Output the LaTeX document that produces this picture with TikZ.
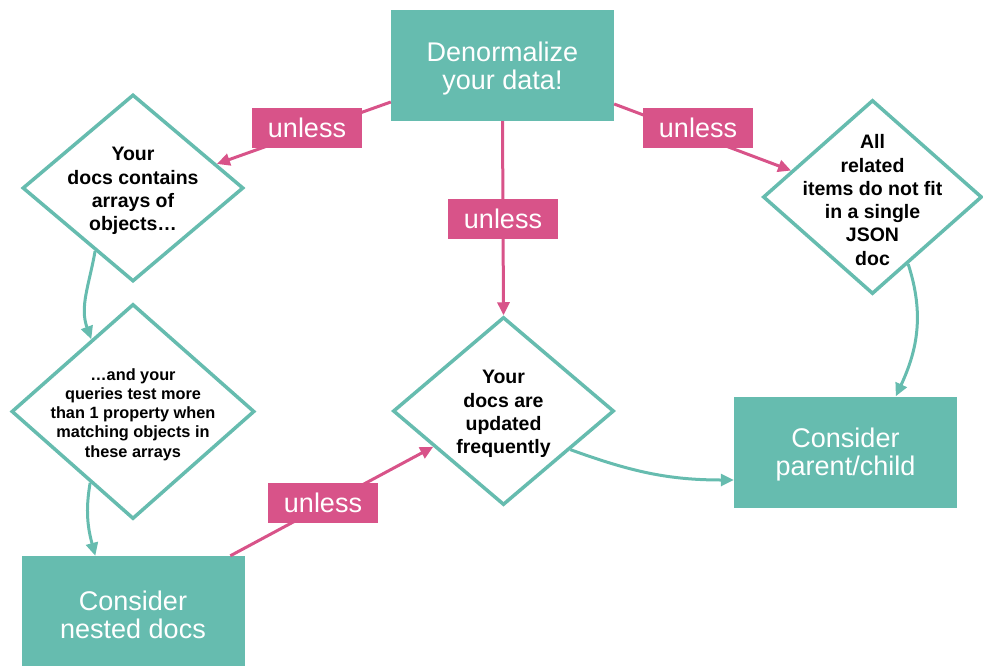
\documentclass[tikz,border=0pt]{standalone}
\usepackage{fontspec}
\setmainfont{Liberation Sans}
\usetikzlibrary{shapes.geometric,arrows.meta,calc}
\definecolor{teal1}{RGB}{102,188,175}
\definecolor{pink1}{RGB}{216,83,137}
\begin{document}
\begin{tikzpicture}[x=1pt,y=1pt,
 box/.style={fill=teal1, minimum width=223pt, minimum height=111pt, inner sep=0pt},
 btext/.style={text=white, align=center, inner sep=0pt, font=\fontsize{27}{28}\selectfont, yshift=-3pt},
 dia/.style={diamond, draw=teal1, line width=3.5pt, fill=white, inner sep=0pt},
 dtext/.style={align=center, font=\fontsize{19.5}{23.3}\selectfont\bfseries, inner sep=0pt, yshift=-3pt},
 lbl/.style={fill=pink1, text=white, minimum width=110pt, minimum height=40pt, inner sep=0pt, font=\fontsize{27}{28}\selectfont},
 parr/.style={draw=pink1, line width=3pt, -{Triangle[length=13pt,width=12pt]}},
 tarr/.style={draw=teal1, line width=3pt, -{Triangle[length=13pt,width=12pt]}},
]
\useasboundingbox (0,0) rectangle (983,-665);
\clip (0,0) rectangle (983,-665);

% boxes
\node[box] (top) at (502.5,-65.5) {};
\node[btext] (ttop) at (top) {Denormalize\\your data!};
\node[box] (nb) at (133,-611.5) {};
\node[btext] (tnb) at (nb) {Consider\\nested docs};
\node[box] (pc) at (845.5,-452) {};
\node[btext] (tpc) at (pc) {Consider\\parent/child};

% diamonds
\node[dia, minimum width=221pt, minimum height=187pt] (d1) at (133,-188) {};
\node[dtext] (t1) at (d1) {Your\\docs contains\\arrays of\\objects…};
\node[dia, minimum width=243pt, minimum height=215pt] (d2) at (133,-411.5) {};
\node[dtext, font=\fontsize{16.3}{19.2}\selectfont\bfseries] (t2) at (d2) {…and your\\queries test more\\than 1 property when\\matching objects in\\these arrays};
\node[dia, minimum width=221pt, minimum height=188pt] (dc) at (503.5,-411) {};
\node[dtext] (tc) at (dc) {Your\\docs are\\updated\\frequently};
\node[dia, minimum width=219pt, minimum height=194pt] (dr) at (872.5,-197) {};
\node[dtext] (tr) at (dr) {All\\related\\items do not fit\\in a single\\JSON\\doc};

% pink connectors
\draw[parr] ([yshift=-36.5pt]top.west) -- (d1.16);
\draw[parr] ([yshift=-38.5pt]top.east) -- (dr.162);
\draw[parr] (top.south) -- (dc.north);
\draw[parr] ([xshift=209pt]nb.north west) -- (dc.207);

% teal connectors
\draw[tarr] (d1.239) to[out=-100,in=110] (d2.120);
\draw[tarr] (d2.239) to[out=-100,in=105] ([xshift=74pt]nb.north west);
\draw[tarr] (dr.298) to[out=-72,in=65] ([xshift=162pt]pc.north west);
\draw[tarr] (dc.330) to[out=-20,in=180] ([yshift=-28pt]pc.west);

% labels
\node[lbl] (u1) at (307,-128) {unless};
\node[lbl] (u2) at (698,-128) {unless};
\node[lbl] (u3) at (503,-219) {unless};
\node[lbl] (u4) at (323,-503) {unless};
\end{tikzpicture}
\end{document}
